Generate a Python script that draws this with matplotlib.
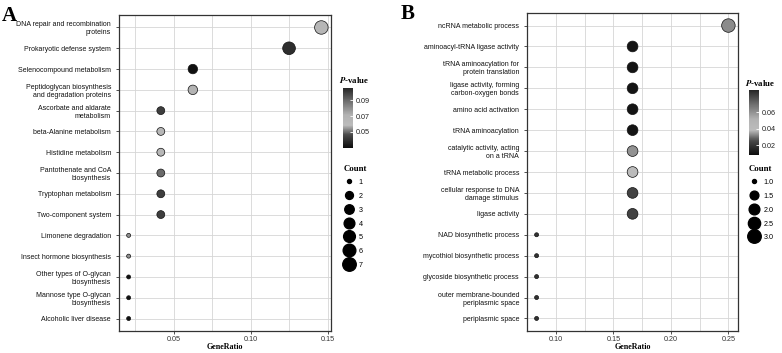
import numpy as np
import matplotlib
matplotlib.use("Agg")
import matplotlib.pyplot as plt
from matplotlib.colors import LinearSegmentedColormap
from matplotlib.lines import Line2D
from matplotlib.ticker import MultipleLocator, FormatStrFormatter

plt.rcParams["font.family"] = "Liberation Sans"
plt.rcParams["mathtext.fontset"] = "stix"

# ---- Panel A: KEGG pathways ----
terms_a = [
    "DNA repair and recombination\nproteins",
    "Prokaryotic defense system",
    "Selenocompound metabolism",
    "Peptidoglycan biosynthesis\nand degradation proteins",
    "Ascorbate and aldarate\nmetabolism",
    "beta-Alanine metabolism",
    "Histidine metabolism",
    "Pantothenate and CoA\nbiosynthesis",
    "Tryptophan metabolism",
    "Two-component system",
    "Limonene degradation",
    "Insect hormone biosynthesis",
    "Other types of O-glycan\nbiosynthesis",
    "Mannose type O-glycan\nbiosynthesis",
    "Alcoholic liver disease",
]
ratio_a = [0.146, 0.125, 0.0625, 0.0625, 0.0417, 0.0417, 0.0417, 0.0417,
           0.0417, 0.0417, 0.0208, 0.0208, 0.0208, 0.0208, 0.0208]
count_a = [7, 6, 3, 3, 2, 2, 2, 2, 2, 2, 1, 1, 1, 1, 1]
pval_a = [0.066, 0.104, 0.030, 0.070, 0.100, 0.065, 0.065, 0.090,
          0.100, 0.100, 0.080, 0.080, 0.030, 0.030, 0.030]
prange_a = (0.029, 0.106)
pticks_a = [0.05, 0.07, 0.09]
xticks_a = [0.05, 0.10, 0.15]
legend_a = [1, 2, 3, 4, 5, 6, 7]

# ---- Panel B: GO terms ----
terms_b = [
    "ncRNA metabolic process",
    "aminoacyl-tRNA ligase activity",
    "tRNA aminoacylation for\nprotein translation",
    "ligase activity, forming\ncarbon-oxygen bonds",
    "amino acid activation",
    "tRNA aminoacylation",
    "catalytic activity, acting\non a tRNA",
    "tRNA metabolic process",
    "cellular response to DNA\ndamage stimulus",
    "ligase activity",
    "NAD biosynthetic process",
    "mycothiol biosynthetic process",
    "glycoside biosynthetic process",
    "outer membrane-bounded\nperiplasmic space",
    "periplasmic space",
]
ratio_b = [0.25, 0.1667, 0.1667, 0.1667, 0.1667, 0.1667, 0.1667, 0.1667,
           0.1667, 0.1667, 0.0833, 0.0833, 0.0833, 0.0833, 0.0833]
count_b = [3, 2, 2, 2, 2, 2, 2, 2, 2, 2, 1, 1, 1, 1, 1]
pval_b = [0.062, 0.010, 0.010, 0.010, 0.010, 0.010, 0.060, 0.040,
          0.080, 0.080, 0.084, 0.084, 0.084, 0.084, 0.084]
prange_b = (0.008, 0.087)
pticks_b = [0.02, 0.04, 0.06]
xticks_b = [0.10, 0.15, 0.20, 0.25]
legend_b = [1.0, 1.5, 2.0, 2.5, 3.0]

cmap = LinearSegmentedColormap.from_list(
    "gray_band",
    [(0.0, "#0d0d0d"), (0.22, "#4a4a4a"), (0.38, "#bcbcbc"),
     (0.55, "#b2b2b2"), (0.78, "#6e6e6e"), (1.0, "#262626")])

W, H = 782, 353
fig = plt.figure(figsize=(W / 100, H / 100), dpi=100)


def diam_px(c, cmin, cmax):
    return 4 + 9.5 * np.sqrt((np.asarray(c, float) - cmin) / (cmax - cmin))


def panel(rect, terms, ratio, count, pval, prange, xticks, minor):
    ax = fig.add_axes(rect)
    n = len(terms)
    y = np.arange(n)[::-1]
    cmin, cmax = min(count), max(count)
    s = (diam_px(count, cmin, cmax) * 0.72) ** 2
    sc = ax.scatter(ratio, y, s=s, c=pval, cmap=cmap, vmin=prange[0], vmax=prange[1],
                    edgecolors="#111111", linewidths=0.5, zorder=3)
    lo, hi = min(ratio), max(ratio)
    pad = 0.05 * (hi - lo)
    ax.set_xlim(lo - pad, hi + pad)
    ax.set_ylim(-0.6, n - 0.4)
    ax.set_yticks(y)
    ax.set_yticklabels(terms, fontsize=5.0, color="#111111", multialignment="right")
    ax.set_xticks(xticks)
    ax.xaxis.set_minor_locator(MultipleLocator(minor))
    ax.xaxis.set_major_formatter(FormatStrFormatter("%.2f"))
    ax.tick_params(axis="x", labelsize=5.2, labelcolor="#333333", pad=1.5)
    ax.tick_params(which="major", length=2.2, width=0.6, color="#333333")
    ax.tick_params(which="minor", length=0)
    ax.grid(which="both", color="#d6d6d6", lw=0.6, zorder=0)
    ax.set_axisbelow(True)
    for sp in ax.spines.values():
        sp.set_color("#333333")
        sp.set_linewidth(0.9)
    ax.set_xlabel("GeneRatio", family="Liberation Serif", fontweight="bold",
                  fontsize=5.8, labelpad=0)
    return ax, sc


def side_legends(sc, cb_rect, ptitle_xy, pticks, legend_vals, cmin, cmax,
                 leg_xy, spacing):
    cax = fig.add_axes(cb_rect)
    cb = fig.colorbar(sc, cax=cax, ticks=pticks)
    cb.outline.set_visible(False)
    cax.tick_params(length=2, width=0.6, color="white", direction="in",
                    labelsize=5.2, labelcolor="#222222", pad=2)
    fig.text(ptitle_xy[0] / W, 1 - ptitle_xy[1] / H, r"$\bfit{P}$-value",
             family="Liberation Serif", fontweight="bold", fontsize=6.3,
             ha="left", va="center")
    handles = [Line2D([], [], ls="", marker="o", color="black",
                      markersize=diam_px(v, cmin, cmax) * 0.72)
               for v in legend_vals]
    labels = [str(v) for v in legend_vals]
    leg = fig.legend(handles, labels, title="Count", loc="upper left",
                     bbox_to_anchor=(leg_xy[0] / W, 1 - leg_xy[1] / H),
                     frameon=False, fontsize=5.2, labelspacing=spacing,
                     handlelength=1.6, handletextpad=0.5, borderpad=0,
                     handleheight=1.3,
                     title_fontproperties={"family": "Liberation Serif",
                                           "weight": "bold", "size": 6.3})
    leg._legend_box.align = "left"


ax_a, sc_a = panel([119 / W, 22 / H, 212 / W, 316 / H], terms_a, ratio_a,
                   count_a, pval_a, prange_a, xticks_a, 0.025)
side_legends(sc_a, [343 / W, 205 / H, 10 / W, 60 / H], (339, 80), pticks_a,
             legend_a, min(count_a), max(count_a), (340, 161), 0.75)

ax_b, sc_b = panel([527 / W, 22 / H, 211 / W, 318 / H], terms_b, ratio_b,
                   count_b, pval_b, prange_b, xticks_b, 0.025)
side_legends(sc_b, [749 / W, 198 / H, 10 / W, 65 / H], (745, 83), pticks_b,
             legend_b, min(count_b), max(count_b), (745, 161), 0.75)

fig.text(2 / W, 1 - 6 / H, "A", family="Liberation Serif", fontweight="bold",
         fontsize=15, ha="left", va="top")
fig.text(401 / W, 1 - 4 / H, "B", family="Liberation Serif", fontweight="bold",
         fontsize=15, ha="left", va="top")

fig.savefig("out.png", dpi=100)
